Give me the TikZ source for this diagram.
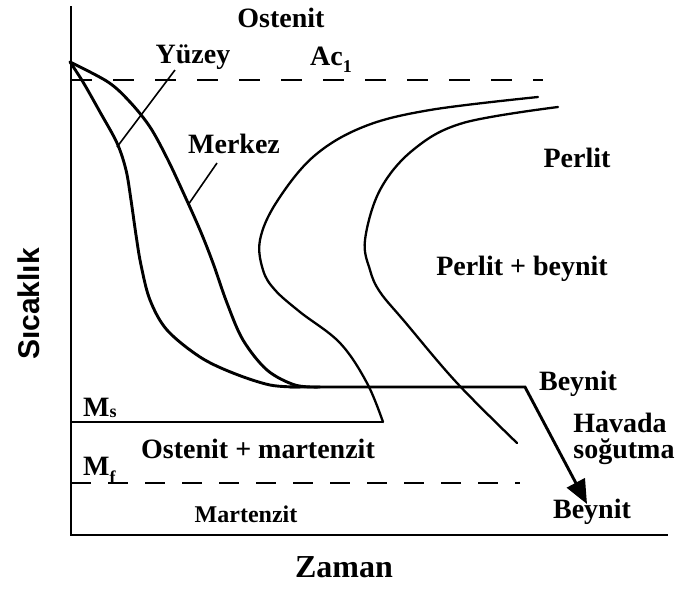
\documentclass[tikz,border=0pt]{standalone}
\usepackage{fontspec}
\setmainfont{Liberation Serif}
\newfontfamily\axsans{Liberation Sans}
\usetikzlibrary{arrows.meta}
\newcommand\subsc[2][0.28em]{\raisebox{-#1}{\fontsize{18}{18}\selectfont #2}}
\begin{document}
\begin{tikzpicture}[x=1pt,y=-1pt,
  lbl/.style={font=\bfseries\fontsize{28}{31}\selectfont, inner sep=0pt, anchor=base},
  axisline/.style={line width=2.4pt},
  cool/.style={line width=2.9pt, line cap=round, line join=round},
  ccurve/.style={line width=2.3pt, line cap=round},
  leader/.style={line width=1.6pt},
  dline/.style={line width=2.3pt, dash pattern=on 21pt off 21pt},
  dline2/.style={line width=2.3pt, dash pattern=on 20pt off 17pt}]
\useasboundingbox (0,0) rectangle (678,592);
% axes
\coordinate (top) at (71,6);
\coordinate (orig) at (71,535);
\coordinate (xend) at (668,535);
\draw[axisline] (top) -- (orig) -- (xend);
% Ac1 dashed line
\coordinate (acA) at (71,80);
\coordinate (acB) at (543,80);
\draw[dline] (acA) -- (acB);
% Ms line
\coordinate (msA) at (71,422);
\coordinate (msB) at (383,422);
\draw[line width=2.3pt] (msA) -- (msB);
% Mf dashed line
\coordinate (mfA) at (71,483);
\coordinate (mfB) at (520,483);
\draw[dline2] (mfA) -- (mfB);
% cooling curves
\draw[cool] plot[smooth, tension=0.55] coordinates {(70,62) (83,82) (100,112) (117,143) (126,170) (131,200) (136,235) (141,265) (150,300) (167,330) (200,357) (233,373) (270,385) (300,387)};
\draw[cool] plot[smooth, tension=0.55] coordinates {(70,62) (108,82) (130,102) (150,127) (167,158) (183,192) (200,230) (213,263) (227,303) (243,340) (267,370) (295,385) (320,387)};
% C-curves
\draw[ccurve] plot[smooth, tension=0.6] coordinates {(538,97) (430,110) (363,127) (313,157) (276,203) (260,240) (263,270) (275,290) (300,312) (340,343) (367,383) (383,422)};
\draw[ccurve] plot[smooth, tension=0.6] coordinates {(558,107) (463,123) (413,150) (380,190) (365,240) (370,270) (380,292) (405,322) (457,383) (517,443)};
% bainite line and air cooling arrow
\coordinate (bA) at (290,387);
\coordinate (bB) at (525,387);
\coordinate (bC) at (587,504);
\draw[line width=2.9pt, line join=miter, -{Triangle[length=24pt,width=20pt]}] (bA) -- (bB) -- (bC);
% leader lines
\coordinate (yzA) at (175,70);
\coordinate (yzB) at (117,147);
\draw[leader] (yzA) -- (yzB);
\coordinate (mkA) at (217,163);
\coordinate (mkB) at (188,205);
\draw[leader] (mkA) -- (mkB);
% labels
\node[lbl] (ostenit) at (281,27) {Ostenit};
\node[lbl] (yuzey) at (193,63) {Yüzey};
\node[lbl, anchor=base west] (ac) at (310,65) {Ac\subsc{1}};
\node[lbl] (merkez) at (234,153) {Merkez};
\node[lbl] (perlit) at (577,167) {Perlit};
\node[lbl] (pb) at (522,275) {Perlit + beynit};
\node[lbl] (beynit1) at (578,390) {Beynit};
\node[lbl] (havada) at (620,432) {Havada};
\node[lbl] (sogutma) at (624,458) {soğutma};
\node[lbl] (beynit2) at (592,518) {Beynit};
\node[lbl, anchor=base west] (ms) at (83,416) {M\subsc[0.05em]{s}};
\node[lbl, anchor=base west] (mf) at (83,475) {M\subsc[0.3em]{f}};
\node[lbl] (om) at (258,458) {Ostenit + martenzit};
\node[lbl, font=\bfseries\fontsize{24}{28}\selectfont] (mart) at (246,522) {Martenzit};
\node[lbl, font=\bfseries\fontsize{32}{36}\selectfont] (zaman) at (344,577) {Zaman};
\node[inner sep=0pt, rotate=90, font=\axsans\bfseries\fontsize{30}{34}\selectfont] (sic) at (29,304) {Sıcaklık};
\end{tikzpicture}
\end{document}
